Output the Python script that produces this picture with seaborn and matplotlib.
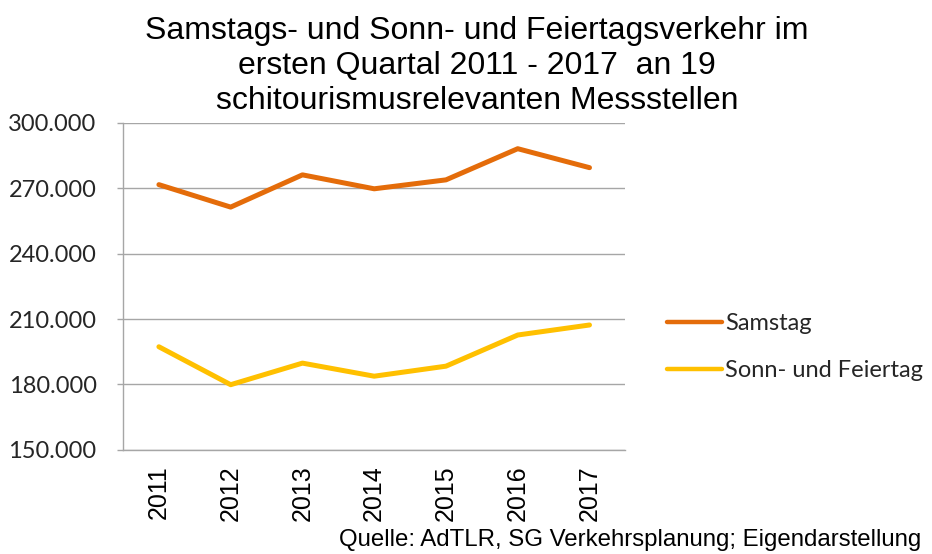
import matplotlib
matplotlib.use("Agg")
import matplotlib.pyplot as plt
import matplotlib.ticker as mticker
from matplotlib.lines import Line2D
import seaborn as sns
import pandas as pd

years = ["2011", "2012", "2013", "2014", "2015", "2016", "2017"]
samstag = [271700, 261400, 276200, 269800, 273900, 288200, 279500]
sonn_feiertag = [197300, 179900, 189800, 183800, 188400, 202700, 207300]
series_names = ["Samstag", "Sonn- und Feiertag"]
colors = ["#E46C0A", "#FFC000"]
yticks = [150000, 180000, 210000, 240000, 270000, 300000]
title = ("Samstags- und Sonn- und Feiertagsverkehr im\n"
         "ersten Quartal 2011 - 2017  an 19\n"
         "schitourismusrelevanten Messstellen")
source = "Quelle: AdTLR, SG Verkehrsplanung; Eigendarstellung"

df = pd.DataFrame({
    "Jahr": years * 2,
    "Wert": samstag + sonn_feiertag,
    "Serie": [series_names[0]] * len(years) + [series_names[1]] * len(years),
})

sns.set_style("white")
plt.rcParams["font.family"] = ["Liberation Sans", "DejaVu Sans"]

fig = plt.figure(figsize=(9.32, 5.54), dpi=100)
ax = fig.add_axes([0.132, 0.188, 0.539, 0.590])

sns.lineplot(data=df, x="Jahr", y="Wert", hue="Serie", palette=colors,
             linewidth=3.6, ax=ax, legend=False, sort=False)

ax.set_xlim(-0.5, len(years) - 0.5)
ax.set_ylim(yticks[0], yticks[-1])
ax.set_yticks(yticks)
ax.yaxis.set_major_formatter(mticker.FuncFormatter(
    lambda v, p: f"{int(v):,}".replace(",", ".")))
ax.grid(axis="y", color="#A6A6A6", linewidth=1.0)
ax.grid(axis="x", visible=False)
ax.set_axisbelow(True)
for s in ["top", "right"]:
    ax.spines[s].set_visible(False)
for s in ["left", "bottom"]:
    ax.spines[s].set_color("#A6A6A6")
    ax.spines[s].set_linewidth(1.0)
ax.set_xlabel("")
ax.set_ylabel("")
ax.tick_params(axis="y", length=4, width=1.0, color="#A6A6A6", pad=15,
               direction="out", left=True)
ax.tick_params(axis="x", length=0, pad=11)
for lab in ax.get_yticklabels():
    lab.set_fontfamily(["Lato", "DejaVu Sans"])
    lab.set_fontsize(17)
    lab.set_color("#262626")
for lab in ax.get_xticklabels():
    lab.set_rotation(90)
    lab.set_fontsize(18)
    lab.set_color("#000000")

fig.text(0.512, 0.972, title, ha="center", va="top", fontsize=23,
         linespacing=1.22, color="#000000")
fig.text(0.988, 0.006, source, ha="right", va="bottom", fontsize=17.3,
         color="#000000")

handles = [Line2D([], [], color=c, linewidth=3.2) for c in colors]
leg = fig.legend(handles, series_names, loc="center left",
                 bbox_to_anchor=(0.711, 0.373), frameon=False,
                 handlelength=2.3, handletextpad=0.15, labelspacing=1.1,
                 borderpad=0.2, borderaxespad=0.0,
                 prop={"family": ["Lato", "DejaVu Sans"], "size": 17})
for t in leg.get_texts():
    t.set_color("#262626")

fig.savefig("out.png", dpi=100)
